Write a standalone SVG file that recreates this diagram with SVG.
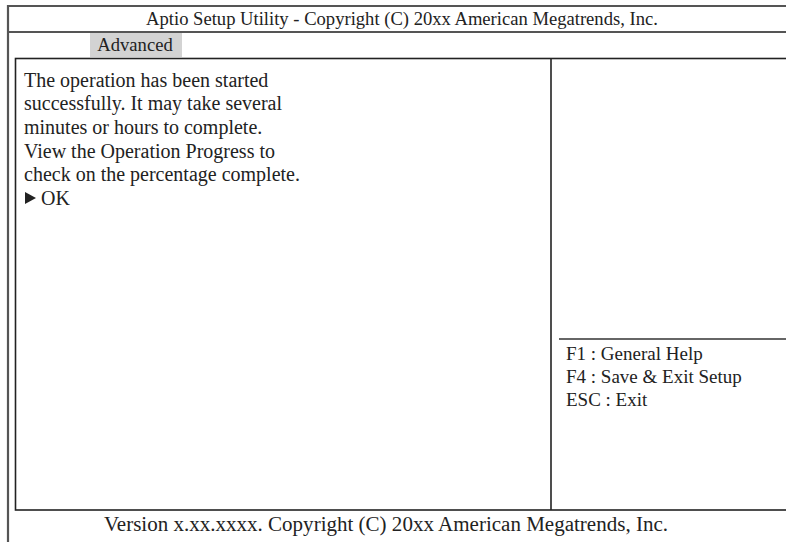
<svg xmlns="http://www.w3.org/2000/svg" width="786" height="542" viewBox="0 0 786 542">
<style>
.t{font-family:"Liberation Serif","Times New Roman",serif;font-size:18.6px;fill:#222}
.b{font-size:20px}
.h{font-size:19px}
.frame{stroke:#555;stroke-width:2.2;fill:none}
.box{stroke:#222;stroke-width:1.6;fill:none}
</style>
<rect width="786" height="542" fill="#fff"/>
<g id="outer-frame">
<line class="frame" x1="8" y1="6" x2="786" y2="6"/>
<line class="frame" x1="8" y1="5" x2="8" y2="542"/>
<line class="frame" x1="8" y1="32" x2="786" y2="32"/>
</g>
<g id="title">
<text class="t" x="402" y="25" text-anchor="middle">Aptio Setup Utility - Copyright (C) 20xx American Megatrends, Inc.</text>
</g>
<g id="tab-advanced">
<rect x="90" y="33" width="92" height="24" fill="#d3d3d3"/>
<text class="t" x="135" y="51" text-anchor="middle">Advanced</text>
</g>
<g id="main-panel">
<rect class="box" x="15.5" y="58.5" width="780" height="451.5"/>
<line class="box" x1="551" y1="58.5" x2="551" y2="510"/>
</g>
<g id="message">
<text class="t b" x="24" y="87">The operation has been started</text>
<text class="t b" x="24" y="110">successfully. It may take several</text>
<text class="t b" x="24" y="134">minutes or hours to complete.</text>
<text class="t b" x="24" y="158">View the Operation Progress to</text>
<text class="t b" x="24" y="181">check on the percentage complete.</text>
</g>
<g id="ok-option">
<polygon points="25,192 36,198 25,204" fill="#222"/>
<text class="t b" x="41" y="205">OK</text>
</g>
<g id="help">
<line stroke="#333" stroke-width="1.4" x1="559" y1="339" x2="786" y2="339"/>
<text class="t h" x="566" y="360">F1 : General Help</text>
<text class="t h" x="566" y="383">F4 : Save &amp; Exit Setup</text>
<text class="t h" x="566" y="406">ESC : Exit</text>
</g>
<g id="footer">
<text class="t" x="386" y="531" text-anchor="middle" textLength="564" lengthAdjust="spacingAndGlyphs" style="font-size:20px">Version x.xx.xxxx. Copyright (C) 20xx American Megatrends, Inc.</text>
</g>
</svg>
